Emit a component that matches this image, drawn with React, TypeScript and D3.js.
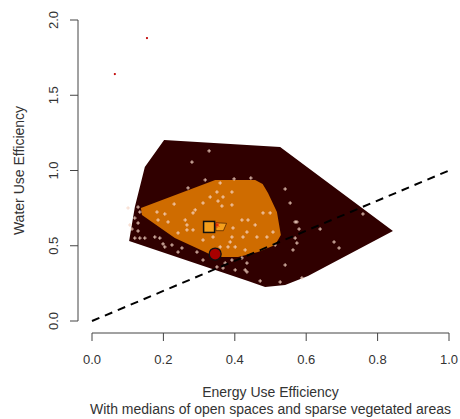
import React from 'react';
import * as d3 from 'd3';

// axis ticks
const xTicks = [0, 0.2, 0.4, 0.6, 0.8, 1.0];
const yTicks = [0, 0.5, 1.0, 1.5, 2.0];

// outer loop (convex hull of all non-outlying points)
const loopX = [0.202, 0.527, 0.843, 0.605, 0.541, 0.485, 0.437, 0.104, 0.120, 0.148];
const loopY = [1.203, 1.156, 0.598, 0.299, 0.239, 0.226, 0.266, 0.532, 0.757, 1.023];

// bag (inner 50% region)
const bagX = [0.137, 0.241, 0.345, 0.457, 0.478, 0.493, 0.518, 0.529, 0.513, 0.465, 0.409, 0.345, 0.317, 0.232, 0.140];
const bagY = [0.751, 0.844, 0.937, 0.937, 0.910, 0.850, 0.724, 0.571, 0.505, 0.458, 0.425, 0.425, 0.458, 0.551, 0.704];

// central region around the Tukey median
const centerX = [0.347, 0.377, 0.368, 0.347];
const centerY = [0.653, 0.649, 0.600, 0.600];
const tukeyMedian = [0.350, 0.638];

// medians of open spaces (square) and sparse vegetated areas (circle)
const openMedian = [0.328, 0.625];
const sparseMedian = [0.345, 0.445];

// observations
const pointsX = [
  0.328, 0.280, 0.129, 0.101, 0.120, 0.129, 0.112, 0.129, 0.120, 0.134, 0.148, 0.106,
  0.176, 0.190, 0.199, 0.224, 0.252, 0.294, 0.311, 0.350, 0.367, 0.401, 0.429, 0.373,
  0.392, 0.434, 0.434, 0.471, 0.527, 0.541, 0.563, 0.555, 0.541, 0.574, 0.580, 0.639,
  0.759, 0.574, 0.678, 0.692, 0.588, 0.204, 0.241, 0.420, 0.569, 0.569,
  0.269, 0.317, 0.359, 0.398, 0.445, 0.392, 0.331, 0.350, 0.367, 0.353, 0.364, 0.479,
  0.499, 0.311, 0.230, 0.289, 0.182, 0.204, 0.134, 0.185, 0.213, 0.266, 0.266, 0.241,
  0.392, 0.420, 0.437, 0.457, 0.434, 0.507, 0.392, 0.423, 0.462, 0.490, 0.359, 0.381,
  0.401, 0.429, 0.283, 0.261, 0.283, 0.395, 0.339, 0.311, 0.387, 0.513,
];
const pointsY = [
  1.130, 1.056, 0.757, 0.751, 0.684, 0.651, 0.611, 0.598, 0.551, 0.551, 0.551, 0.638,
  0.558, 0.551, 0.512, 0.505, 0.485, 0.458, 0.405, 0.359, 0.352, 0.339, 0.339, 0.385,
  0.405, 0.385, 0.326, 0.266, 0.259, 0.372, 0.472, 0.784, 0.877, 0.658, 0.611, 0.611,
  0.711, 0.518, 0.525, 0.485, 0.286, 0.492, 0.458, 0.419, 0.658, 0.551,
  0.884, 0.937, 0.917, 0.944, 0.950, 0.857, 0.824, 0.857, 0.824, 0.797, 0.764, 0.718,
  0.718, 0.784, 0.777, 0.738, 0.724, 0.711, 0.724, 0.671, 0.658, 0.638, 0.605, 0.585,
  0.771, 0.671, 0.671, 0.638, 0.591, 0.591, 0.558, 0.558, 0.558, 0.558, 0.492, 0.492,
  0.492, 0.472, 0.718, 0.671, 0.605, 0.618, 0.558, 0.538, 0.525, 0.505,
];

// outliers
const outlierX = [0.064, 0.154];
const outlierY = [1.641, 1.880];

const W = 460;
const H = 419;

const App: React.FC = () => {
  const x = d3.scaleLinear().domain([0, 1]).range([92, 449]);
  const y = d3.scaleLinear().domain([0, 2]).range([321, 20]);

  const poly = (xs: number[], ys: number[]) =>
    d3.line<number>().x((_, i) => x(xs[i])).y((_, i) => y(ys[i]))(xs.map((_, i) => i)) + 'Z';

  const font = '"Liberation Sans", Arial, sans-serif';
  const star = d3.symbol(d3.symbolAsterisk, 22)() as string;

  return (
    <svg width={W} height={H} style={{ position: 'absolute', left: 0, top: 0, background: '#fff' }} fontFamily={font}>
      <path d={poly(loopX, loopY)} fill="#300000" />
      <path d={poly(bagX, bagY)} fill="#cf6c00" />

      {pointsX.map((px, i) => (
        <g key={i} transform={`translate(${x(px)},${y(pointsY[i])})`} stroke="#f6d6c6" strokeWidth={0.9}>
          <line x1={-1.8} x2={1.8} />
          <line y1={-1.8} y2={1.8} />
        </g>
      ))}

      <line x1={x(0)} y1={y(0)} x2={x(1)} y2={y(1)} stroke="#000" strokeWidth={2} strokeDasharray="8,6" />

      <path d={poly(centerX, centerY)} fill="#f5a01c" stroke="#5a2a00" strokeWidth={0.8} />
      <path d={star} transform={`translate(${x(tukeyMedian[0])},${y(tukeyMedian[1])})`} stroke="#e02000" strokeWidth={0.9} fill="none" />
      <rect x={x(openMedian[0]) - 5.5} y={y(openMedian[1]) - 5.5} width={11} height={11} fill="#f5a01c" stroke="#111" strokeWidth={1.5} />
      <circle cx={x(sparseMedian[0])} cy={y(sparseMedian[1])} r={6} fill="#a80000" stroke="#111" strokeWidth={1.3} />

      {outlierX.map((ox, i) => (
        <circle key={i} cx={x(ox)} cy={y(outlierY[i])} r={1.1} fill="#c00000" />
      ))}

      {/* y axis */}
      <line x1={78} x2={78} y1={y(0)} y2={y(2)} stroke="#444" />
      {yTicks.map(t => (
        <g key={t}>
          <line x1={70} x2={78} y1={y(t)} y2={y(t)} stroke="#444" />
          <text transform={`translate(53,${y(t)}) rotate(-90)`} textAnchor="middle" dominantBaseline="central" fontSize={13} fill="#333">
            {t.toFixed(1)}
          </text>
        </g>
      ))}

      {/* x axis */}
      <line x1={x(0)} x2={x(1)} y1={333} y2={333} stroke="#444" />
      {xTicks.map(t => (
        <g key={t}>
          <line x1={x(t)} x2={x(t)} y1={333} y2={341} stroke="#444" />
          <text x={x(t)} y={364} textAnchor="middle" fontSize={13} fill="#333">
            {t.toFixed(1)}
          </text>
        </g>
      ))}

      <text x={(x(0) + x(1)) / 2} y={397} textAnchor="middle" fontSize={14} fill="#333">
        Energy Use Efficiency
      </text>
      <text x={(x(0) + x(1)) / 2} y={414} textAnchor="middle" fontSize={14} fill="#333">
        With medians of open spaces and sparse vegetated areas
      </text>
      <text transform={`translate(19,${(y(0) + y(2)) / 2}) rotate(-90)`} textAnchor="middle" dominantBaseline="central" fontSize={14} fill="#333">
        Water Use Efficiency
      </text>
    </svg>
  );
};

export default App;
